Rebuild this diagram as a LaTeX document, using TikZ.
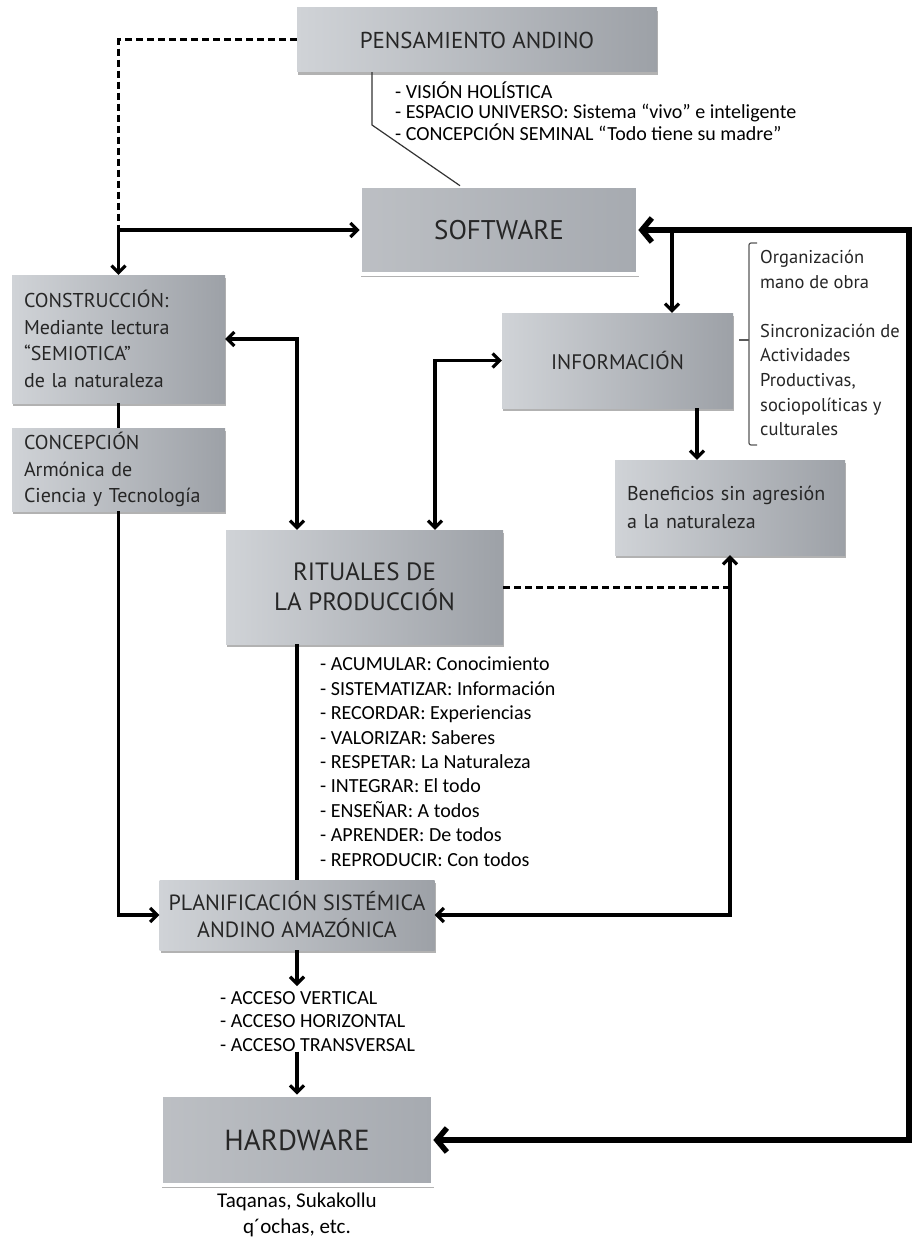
\documentclass[tikz,border=0pt]{standalone}
\usepackage{fontspec}
\setmainfont{Carlito}
\newfontfamily\boxfont{PT Sans}
\usetikzlibrary{arrows.meta,shadows,positioning}
\definecolor{boxlite}{RGB}{208,211,215}
\definecolor{boxdark}{RGB}{157,161,167}
\definecolor{framefill}{RGB}{166,170,176}
\definecolor{boxtext}{RGB}{38,38,38}
\newcommand\boxsize[2]{\boxfont\fontsize{#1}{#2}\selectfont}
\tikzset{
  box/.style={shape=rectangle, left color=boxlite, right color=boxdark, draw=none,
    drop shadow={shadow xshift=1pt, shadow yshift=-3pt, opacity=.3, fill=black},
    inner sep=0pt, text=boxtext, font=\boxsize{20}{26.7}, align=center},
  framebox/.style={box, left color=framefill!75!white, right color=framefill,
    draw=black!18, double=white, double distance=3.2pt, line width=.6pt},
  conn/.style={line width=3.2pt, -{Straight Barb[length=7pt,width=14pt]}},
  conn2/.style={line width=3.2pt, {Straight Barb[length=7pt,width=14pt]}-{Straight Barb[length=7pt,width=14pt]}},
  link/.style={line width=3.2pt},
  dashline/.style={line width=3pt, dash pattern=on 7pt off 4pt},
  bigconn/.style={line width=5.5pt, {Straight Barb[length=10pt,width=24pt]}-{Straight Barb[length=10pt,width=24pt]}},
  notes/.style={inner sep=0pt, align=left, anchor=north west},
  bracket/.style={line width=1.2pt, black!65, rounded corners=2pt}
}
\begin{document}
\begin{tikzpicture}[x=1pt, y=-1pt]
\useasboundingbox[fill=white] (0,0) rectangle (912,1241);

% the boxes
\node[box, minimum width=360pt, minimum height=64pt, font=\boxsize{23}{28}] (pensamiento) at (477,40) {PENSAMIENTO ANDINO};
\node[framebox, minimum width=278pt, minimum height=88pt, font=\boxsize{27}{32}] (software) at (499,230) {SOFTWARE};
\node[box, minimum width=213pt, minimum height=128pt, text width=189pt, align=left] (construccion) at (118.5,339)
  {CONSTRUCCIÓN:\\ Mediante lectura\\ “SEMIOTICA”\\ de la naturaleza};
\node[box, minimum width=213pt, minimum height=83pt, text width=189pt, align=left] (concepcion) at (118.5,469.5)
  {CONCEPCIÓN\\ Armónica de\\ Ciencia y Tecnología};
\node[box, minimum width=231pt, minimum height=95pt, font=\boxsize{21}{26}] (informacion) at (617.5,360.5) {INFORMACIÓN};
\node[box, minimum width=230pt, minimum height=95pt, text width=206pt, align=left, font=\boxsize{20}{28}] (beneficios) at (730,507.5)
  {Beneficios sin agresión\\ a la naturaleza};
\node[box, minimum width=277pt, minimum height=114pt, font=\boxsize{25}{30}] (rituales) at (364.5,587) {RITUALES DE\\ LA PRODUCCIÓN};
\node[box, minimum width=275pt, minimum height=70pt, font=\boxsize{22}{27}] (planif) at (297,915) {PLANIFICACIÓN SISTÉMICA\\ ANDINO AMAZÓNICA};
\node[framebox, minimum width=272pt, minimum height=90pt, font=\boxsize{29}{34}] (hardware) at (297,1140) {HARDWARE};

% the lists
\node[notes, font=\fontsize{20}{20}\selectfont] (vision) at (395,82)
  {- VISIÓN HOLÍSTICA\\ - ESPACIO UNIVERSO: Sistema “vivo” e inteligente\\ - CONCEPCIÓN SEMINAL “Todo tiene su madre”};
\node[notes, font=\fontsize{20}{24.4}\selectfont] (verbos) at (320,657)
  {- ACUMULAR: Conocimiento\\ - SISTEMATIZAR: Información\\ - RECORDAR: Experiencias\\ - VALORIZAR: Saberes\\
   - RESPETAR: La Naturaleza\\ - INTEGRAR: El todo\\ - ENSEÑAR: A todos\\ - APRENDER: De todos\\ - REPRODUCIR: Con todos};
\node[notes, font=\fontsize{20}{23.5}\selectfont] (acceso) at (220,991)
  {- ACCESO VERTICAL\\ - ACCESO HORIZONTAL\\ - ACCESO TRANSVERSAL};
\node[notes, font=\boxsize{18.5}{24.6}, text=boxtext] (organiza) at (760,250)
  {Organización\\ mano de obra\\[24.6pt] Sincronización de\\ Actividades\\ Productivas,\\ sociopolíticas y\\ culturales};
\node[inner sep=0pt, align=center, anchor=north, font=\fontsize{21}{26}\selectfont] (taqanas) at (297,1193)
  {Taqanas, Sukakollu\\ q´ochas, etc.};

% corners of the lines
\coordinate (junc) at (118.5,230);
\coordinate (kink) at (372,125);
\coordinate (rim) at (909,230);
\coordinate (drop) at (672,230);
\coordinate (brtop) at (749,243);
\coordinate (brbot) at (749,445);

% connectors
\draw[line width=1.2pt, black!80] (pensamiento.south -| kink) -- (kink) -- ([xshift=-39pt]software.north);
\draw[dashline] (pensamiento.west) -| (junc);
\draw[conn] (junc) -- (construccion.north);
\draw[conn] (junc) -- (software.west);
\draw[bigconn] (software.east) -- (rim) |- (hardware.east);
\draw[conn] (drop) -- (drop |- informacion.north);
\draw[conn] ([xshift=79.5pt]informacion.south) -- ([xshift=79.5pt]informacion.south |- beneficios.north);
\draw[conn2] (construccion.east) -| ([xshift=-67.5pt]rituales.north);
\draw[conn2] (informacion.west) -| ([xshift=70.5pt]rituales.north);
\draw[dashline] (rituales.east) -- (rituales.east -| beneficios.south);
\draw[conn2] (beneficios.south) |- (planif.east);
\draw[link] (construccion.south) -- (concepcion.north);
\draw[conn] (concepcion.south) |- (planif.west);
\draw[link] ([xshift=-67.5pt]rituales.south) -- ([xshift=-67.5pt]rituales.south |- planif.north);
\draw[conn] (planif.south) -- ([yshift=5pt]planif.south |- acceso.north);
\draw[conn] (acceso.south -| planif.south) -- (hardware.north);

% the bracket
\draw[bracket] ([xshift=8pt]brtop) -- (brtop) -- (brbot) -- ([xshift=8pt]brbot);
\draw[bracket] (749,340) -- (739,340);

\end{tikzpicture}
\end{document}
